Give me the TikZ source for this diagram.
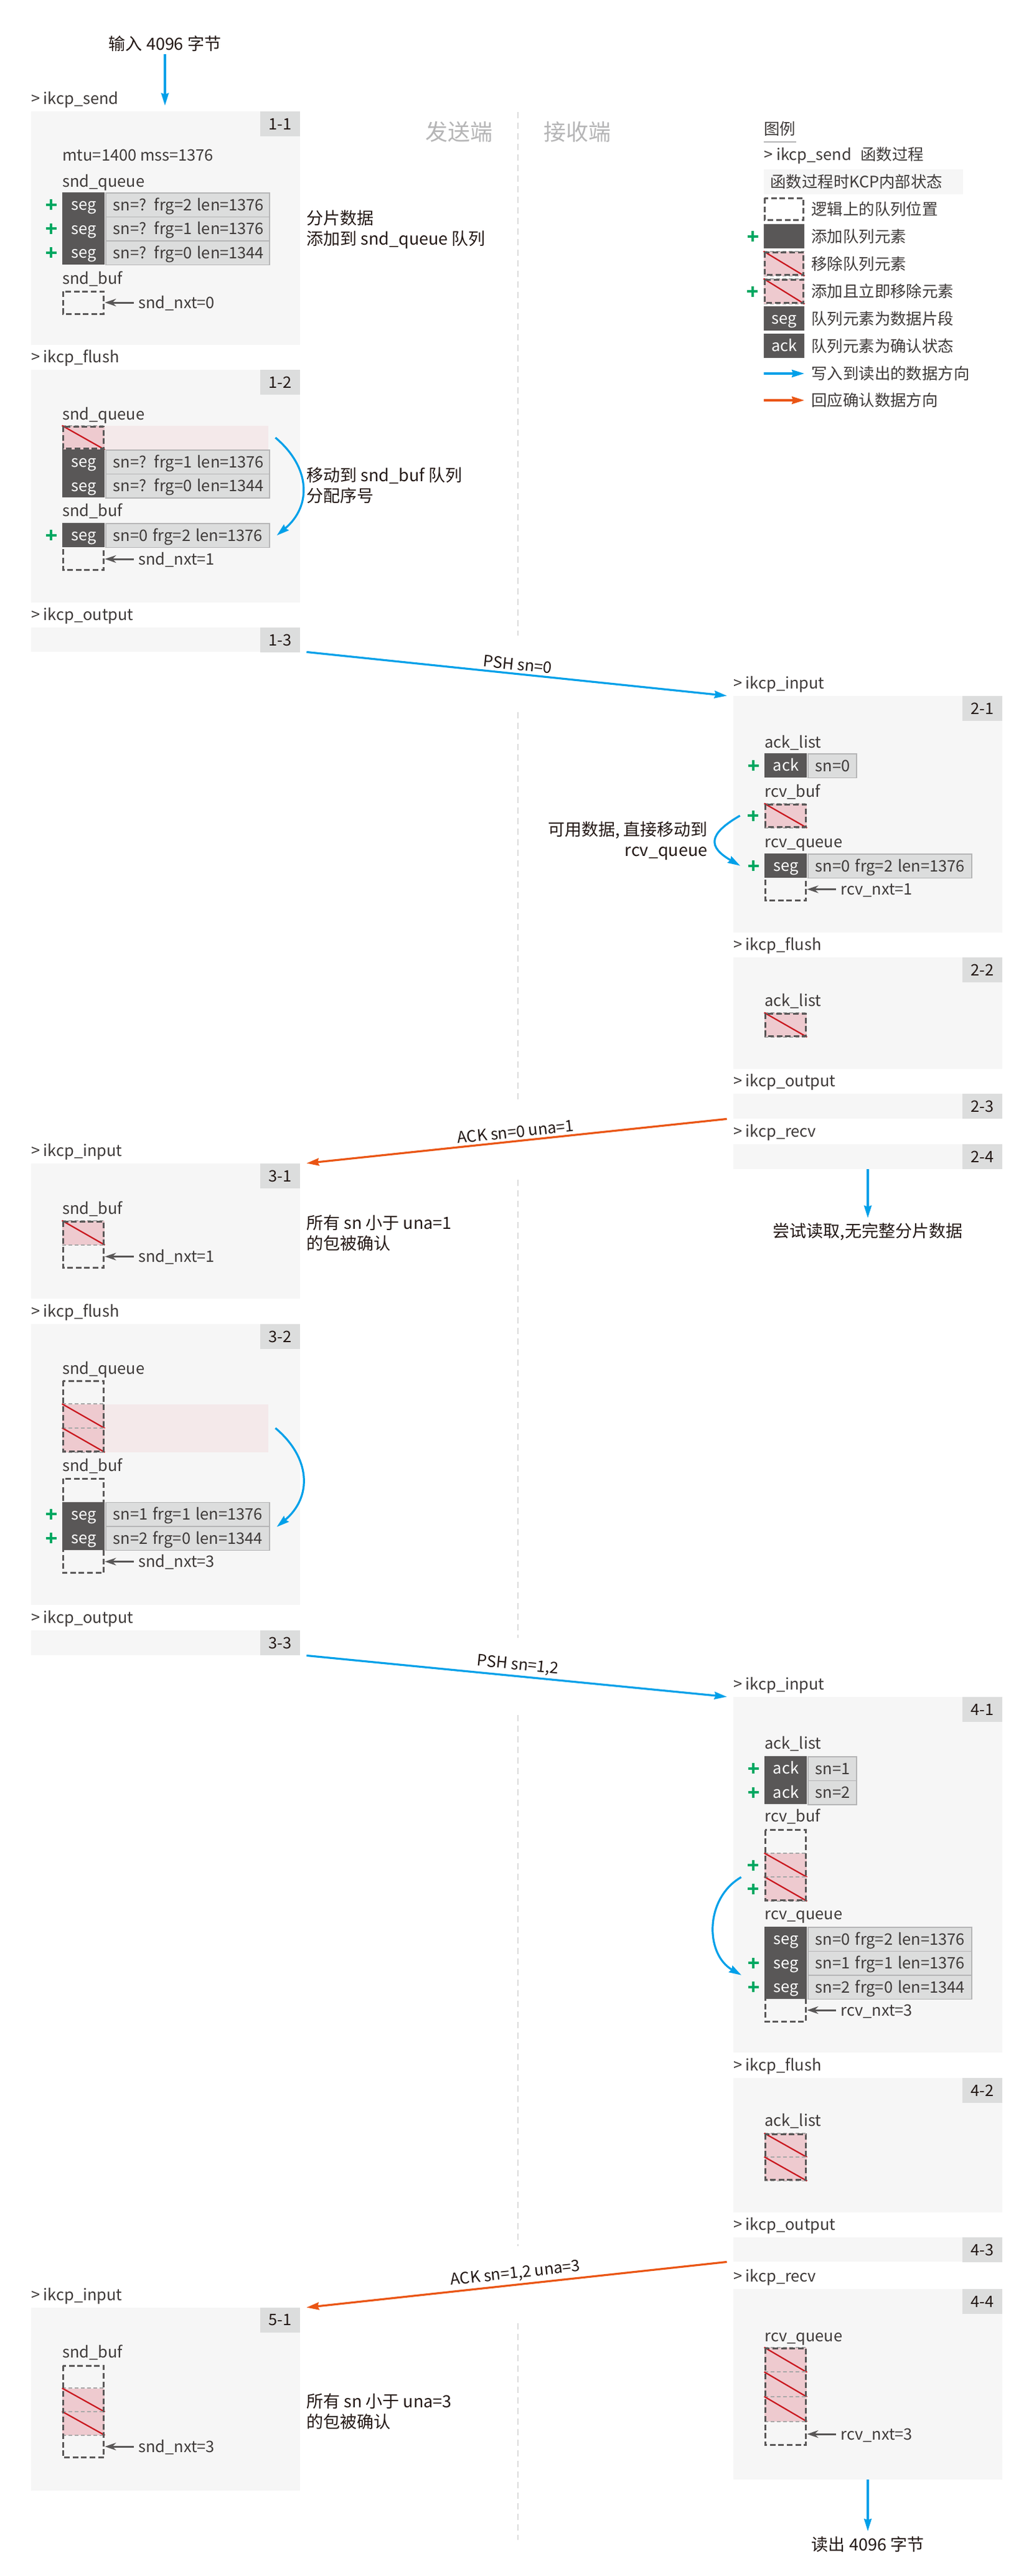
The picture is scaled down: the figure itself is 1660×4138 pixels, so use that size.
\documentclass[tikz,border=0pt]{standalone}
\usepackage{fontspec}
\setmainfont{Noto Sans CJK SC}
\usetikzlibrary{arrows.meta,fit}

\definecolor{boxbg}{HTML}{F6F6F6}
\definecolor{tagbg}{HTML}{DCDDDD}
\definecolor{cellkey}{HTML}{595757}
\definecolor{cellval}{HTML}{DCDDDD}
\definecolor{cellline}{HTML}{B5B5B6}
\definecolor{txt}{HTML}{3E3A39}
\definecolor{note}{HTML}{231815}
\definecolor{side}{HTML}{B5B5B6}
\definecolor{delpink}{HTML}{EECACF}
\definecolor{delband}{HTML}{F4E9EA}
\definecolor{delred}{HTML}{C9171E}
\definecolor{addgreen}{HTML}{00A862}
\definecolor{pshblue}{HTML}{00A0E9}
\definecolor{ackorange}{HTML}{EA5514}
\definecolor{midgray}{HTML}{DCDCDC}
\definecolor{sepgray}{HTML}{A8A8A8}

\newcommand\latinsize{\fontsize{12.7}{16.5}\selectfont}

\tikzset{
  stagebg/.style={fill=boxbg, inner sep=0pt},
  tagbox/.style={fill=tagbg, text=note, font=\latinsize, minimum width=32pt, minimum height=20pt, inner sep=0pt, anchor=north east},
  fname/.style={text=txt, font=\latinsize, anchor=base west, inner sep=0pt},
  qname/.style={text=txt, font=\latinsize, anchor=west, inner sep=0pt, text height=11pt, text depth=2pt},
  notetext/.style={text=note, anchor=west, inner sep=0pt, align=left},
  sidetext/.style={text=side, font=\fontsize{18}{20}\selectfont},
  keycell/.style={fill=cellkey, text=white, font=\latinsize, minimum width=34pt, minimum height=19.25pt, inner sep=0pt, text height=11pt, text depth=2pt, anchor=north west},
  valcell/.style={fill=cellval, draw=cellline, line width=0.9pt, text=txt, font=\latinsize, minimum height=19.25pt, inner xsep=6pt, inner ysep=0pt, text height=11pt, text depth=2pt, text width=#1, align=left, anchor=north west},
  delbox/.style={fill=delpink, inner sep=0pt},
  bandbox/.style={fill=delband, inner sep=0pt},
  slotline/.style={cellkey, line width=1.6pt, dash pattern=on 4.5pt off 2.3pt},
  sepline/.style={sepgray, line width=0.9pt, dash pattern=on 3pt off 2pt},
  delline/.style={delred, line width=1.1pt},
  addmark/.style={addgreen, line width=2pt},
  ulline/.style={side, line width=1pt},
  ptr/.style={cellkey, line width=1.5pt, -{Stealth[length=9pt,width=6pt]}},
  flow/.style={pshblue, line width=1.6pt, -{Stealth[length=10pt,width=6pt,inset=1pt]}},
  ackflow/.style={ackorange, line width=1.6pt, -{Stealth[length=10pt,width=6pt,inset=1pt]}},
  flowlabel/.style={midway, sloped, above, text=note, font=\latinsize, inner sep=2pt},
  midline/.style={midgray, line width=1pt, dash pattern=on 5pt off 3.5pt},
}

% stage box: name, left x, top y, bottom y, tag, function
\newcommand\stage[6]{%
  \node[stagebg, fit={(#2,#3) (#2+432,#4)}] (#1) {};
  \node[tagbox] (#1t) at (#1.north east) {#5};
  \node[fname] (#1f) at ([yshift=5.5pt]#1.north west) {> #6};}
% queue element: [value width] name, x, top y, key, value
\newcommand\segrow[6][119.5pt]{%
  \node[keycell] (k#2) at (#3,#4) {#5};
  \node[valcell=#1] (v#2) at (k#2.north east) {\mbox{#6}};}
% logical queue outline
\newcommand\slotcol[5][68]{%
  \node[fit={(#3,#4) (#3+#1,#5)}, inner sep=0pt] (#2) {};
  \draw[slotline] ([shift={(0.8pt,-0.8pt)}]#2.north west) rectangle ([shift={(-0.8pt,0.8pt)}]#2.south east);}
% removed element
\newcommand\delslot[5][68]{%
  \node[delbox, fit={(#3,#4) (#3+#1,#5)}] (#2) {};
  \draw[sepline] (#2.north west) -- (#2.north east) (#2.south west) -- (#2.south east);
  \draw[delline] (#2.north west) -- (#2.south east);}
% green plus left of an element
\newcommand\addat[1]{%
  \draw[addmark] ([xshift=-13.25pt]#1.west) -- ([xshift=-4.75pt]#1.west)
    ([xshift=-9pt,yshift=-4.25pt]#1.west) -- ([xshift=-9pt,yshift=4.25pt]#1.west);}
% next pointer: name, column, y, text
\newcommand\nxtptr[4]{%
  \node[qname, xshift=26.8pt] (#1) at (#2.east |- 0,#3) {#4};
  \draw[ptr] ([xshift=-3.5pt]#1.west) -- (#1.west -| #2.east);}

\begin{document}
\begin{tikzpicture}[x=0.5pt, y=-0.5pt, font=\fontsize{13.5}{16.5}\selectfont]
  \path[use as bounding box, fill=white] (0,0) rectangle (1660,4138);

  % midtlinje
  \draw[midline] (832,180) -- (832,1021) (832,1144) -- (832,1771) (832,1895) -- (832,2631)
    (832,2755) -- (832,3608) (832,3732) -- (832,4080);
  \node[sidetext] (snd) at (737,212) {发送端};
  \node[sidetext] (rcv) at (927,212) {接收端};

  % legend
  \node[qname] (lg) at (1227,207) {图例};
  \draw[ulline] (lg.west |- 0,228) -- (lg.east |- 0,228);
  \node[qname] (lgf) at (1227,248) {> ikcp\_send};
  \node[qname] (lgf2) at (1382,248) {函数过程};
  \node[stagebg, fit={(1227,272) (1547,312)}] (lgs) {};
  \node[qname] (lgs2) at (1237,292) {函数过程时KCP内部状态};
  \slotcol[65]{lg1}{1227}{317}{355}
  \node[qname] (lt1) at (1303,336) {逻辑上的队列位置};
  \node[keycell, minimum width=32.5pt] (lg2) at (1227,360) {};
  \addat{lg2}
  \node[qname] (lt2) at (1303,380) {添加队列元素};
  \delslot[65]{lg3}{1227}{404}{443}
  \slotcol[65]{lg3b}{1227}{404}{443}
  \node[qname] (lt3) at (1303,424) {移除队列元素};
  \delslot[65]{lg4}{1227}{448}{488}
  \slotcol[65]{lg4b}{1227}{448}{488}
  \addat{lg4}
  \node[qname] (lt4) at (1303,468) {添加且立即移除元素};
  \node[keycell, minimum width=32.5pt] (lg5) at (1227,492) {seg};
  \node[qname] (lt5) at (1303,512) {队列元素为数据片段};
  \node[keycell, minimum width=32.5pt] (lg6) at (1227,536) {ack};
  \node[qname] (lt6) at (1303,556) {队列元素为确认状态};
  \coordinate (lg7) at (1227,600);
  \node[qname] (lt7) at (1303,600) {写入到读出的数据方向};
  \draw[flow] (lg7) -- ([xshift=-5.5pt]lt7.west);
  \coordinate (lg8) at (1227,643);
  \node[qname] (lt8) at (1303,643) {回应确认数据方向};
  \draw[ackflow] (lg8) -- ([xshift=-5.5pt]lt8.west);

  % 1-1
  \stage{s11}{50}{179}{554}{1-1}{ikcp\_send}
  \node[notetext, anchor=center, inner sep=2pt] (inp) at (265,70) {输入 4096 字节};
  \draw[flow, shorten >=4.5pt] (inp.south) -- (inp.south |- s11.north);
  \node[qname] (mtu) at (100,249) {mtu=1400 mss=1376};
  \node[qname] (q11) at (100,291) {snd\_queue};
  \segrow{11a}{100}{309}{seg}{sn=? frg=2 len=1376}
  \segrow{11b}{100}{347.5}{seg}{sn=? frg=1 len=1376}
  \segrow{11c}{100}{386}{seg}{sn=? frg=0 len=1344}
  \addat{k11a} \addat{k11b} \addat{k11c}
  \node[qname] (b11) at (100,447) {snd\_buf};
  \slotcol{c11}{100}{467}{505.5}
  \nxtptr{n11}{c11}{486}{snd\_nxt=0}
  \node[notetext] (m11) at (492,368.5) {分片数据\\添加到 snd\_queue 队列};

  % 1-2
  \stage{s12}{50}{594}{968}{1-2}{ikcp\_flush}
  \node[qname] (q12) at (100,665) {snd\_queue};
  \node[bandbox, fit={(168,684) (431,722)}] (band12) {};
  \delslot{d12}{100}{684}{722}
  \slotcol{c12a}{100}{684}{722}
  \segrow{12a}{100}{722}{seg}{sn=? frg=1 len=1376}
  \segrow{12b}{100}{760.5}{seg}{sn=? frg=0 len=1344}
  \node[qname] (b12) at (100,820) {snd\_buf};
  \slotcol{c12b}{100}{840}{917}
  \segrow{12c}{100}{840}{seg}{sn=0 frg=2 len=1376}
  \addat{k12c}
  \nxtptr{n12}{c12b}{898}{snd\_nxt=1}
  \draw[flow] ([xshift=5.5pt]band12.east) to[out=-40, in=40, looseness=1.2] ([xshift=5.5pt]v12c.east);
  \node[notetext] (m12) at (492,780) {移动到 snd\_buf 队列\\分配序号};

  % 1-3
  \stage{s13}{50}{1008}{1047}{1-3}{ikcp\_output}

  % 2-1
  \stage{s21}{1178}{1118}{1498}{2-1}{ikcp\_input}
  \node[qname] (a21) at (1228,1192) {ack\_list};
  \segrow[27pt]{21a}{1228}{1210}{ack}{sn=0}
  \addat{k21a}
  \node[qname] (b21) at (1228,1271) {rcv\_buf};
  \delslot{d21}{1228}{1291}{1329.5}
  \slotcol{c21a}{1228}{1291}{1329.5}
  \addat{d21}
  \node[qname] (q21) at (1228,1352) {rcv\_queue};
  \slotcol{c21b}{1228}{1371}{1448}
  \segrow{21b}{1228}{1371}{seg}{sn=0 frg=2 len=1376}
  \addat{k21b}
  \nxtptr{n21}{c21b}{1428.5}{rcv\_nxt=1}
  \draw[flow] ([xshift=-19.5pt]d21.west) to[out=-150, in=150, looseness=1.9] ([xshift=-19.5pt]k21b.west);
  \node[notetext, anchor=east, align=right] (m21) at (1137,1350.5) {可用数据, 直接移动到\\rcv\_queue};

  % 2-2
  \stage{s22}{1178}{1538}{1717}{2-2}{ikcp\_flush}
  \node[qname] (a22) at (1228,1607) {ack\_list};
  \delslot{d22}{1228}{1627}{1665.5}
  \slotcol{c22}{1228}{1627}{1665.5}

  % 2-3 og 2-4
  \stage{s23}{1178}{1757}{1797}{2-3}{ikcp\_output}
  \stage{s24}{1178}{1838}{1878}{2-4}{ikcp\_recv}
  \node[notetext, anchor=center, inner sep=4pt] (m24) at (1394,1979) {尝试读取,无完整分片数据};
  \draw[flow] (s24.south) -- (m24.north);

  % 3-1
  \stage{s31}{50}{1869}{2086}{3-1}{ikcp\_input}
  \node[qname] (b31) at (100,1941) {snd\_buf};
  \delslot{d31}{100}{1961}{1999.5}
  \slotcol{c31}{100}{1961}{2038}
  \nxtptr{n31}{c31}{2018.5}{snd\_nxt=1}
  \node[notetext] (m31) at (492,1981) {所有 sn 小于 una=1\\的包被确认};

  % 3-2
  \stage{s32}{50}{2127}{2578}{3-2}{ikcp\_flush}
  \node[qname] (q32) at (100,2198) {snd\_queue};
  \node[bandbox, fit={(168,2255.5) (431,2332.5)}] (band32) {};
  \delslot{d32a}{100}{2255.5}{2294}
  \delslot{d32b}{100}{2294}{2332.5}
  \slotcol{c32a}{100}{2217}{2332.5}
  \node[qname] (b32) at (100,2354) {snd\_buf};
  \slotcol{c32b}{100}{2374}{2528}
  \segrow{32a}{100}{2412.5}{seg}{sn=1 frg=1 len=1376}
  \segrow{32b}{100}{2451}{seg}{sn=2 frg=0 len=1344}
  \addat{k32a} \addat{k32b}
  \nxtptr{n32}{c32b}{2508.5}{snd\_nxt=3}
  \draw[flow] ([xshift=5.5pt]band32.east) to[out=-40, in=40, looseness=1.2] ([xshift=5.5pt]v32a.south east);

  % 3-3
  \stage{s33}{50}{2619}{2659}{3-3}{ikcp\_output}

  % 4-1
  \stage{s41}{1178}{2726}{3297}{4-1}{ikcp\_input}
  \node[qname] (a41) at (1228,2800) {ack\_list};
  \segrow[27pt]{41a}{1228}{2821}{ack}{sn=1}
  \segrow[27pt]{41b}{1228}{2859.5}{ack}{sn=2}
  \addat{k41a} \addat{k41b}
  \node[qname] (b41) at (1228,2917) {rcv\_buf};
  \delslot{d41a}{1228}{2977}{3015}
  \delslot{d41b}{1228}{3015}{3053.5}
  \slotcol{c41a}{1228}{2938.5}{3053.5}
  \addat{d41a} \addat{d41b}
  \node[qname] (q41) at (1228,3074) {rcv\_queue};
  \slotcol{c41b}{1228}{3095}{3248.5}
  \segrow{41c}{1228}{3095}{seg}{sn=0 frg=2 len=1376}
  \segrow{41d}{1228}{3133.5}{seg}{sn=1 frg=1 len=1376}
  \segrow{41e}{1228}{3172}{seg}{sn=2 frg=0 len=1344}
  \addat{k41d} \addat{k41e}
  \nxtptr{n41}{c41b}{3229}{rcv\_nxt=3}
  \draw[flow] ([xshift=-18.5pt]d41a.south west) to[out=-150, in=150, looseness=1.1] ([xshift=-18.5pt]k41d.south west);

  % 4-2
  \stage{s42}{1178}{3338}{3554}{4-2}{ikcp\_flush}
  \node[qname] (a42) at (1228,3406) {ack\_list};
  \delslot{d42a}{1228}{3427}{3465}
  \delslot{d42b}{1228}{3465}{3503}
  \slotcol{c42}{1228}{3427}{3503}

  % 4-3 og 4-4
  \stage{s43}{1178}{3594}{3633}{4-3}{ikcp\_output}
  \stage{s44}{1178}{3677}{3983}{4-4}{ikcp\_recv}
  \node[qname] (q44) at (1228,3752) {rcv\_queue};
  \delslot{d44a}{1228}{3771}{3810.5}
  \delslot{d44b}{1228}{3810.5}{3850}
  \delslot{d44c}{1228}{3850}{3889.5}
  \slotcol{c44}{1228}{3771}{3929}
  \nxtptr{n44}{c44}{3910}{rcv\_nxt=3}
  \node[notetext, anchor=center, inner sep=4pt] (m44) at (1394,4087) {读出 4096 字节};
  \draw[flow] (s44.south) -- (m44.north);

  % 5-1
  \stage{s51}{50}{3707}{4001}{5-1}{ikcp\_input}
  \node[qname] (b51) at (100,3778) {snd\_buf};
  \delslot{d51a}{100}{3836.5}{3874}
  \delslot{d51b}{100}{3874}{3911.5}
  \slotcol{c51}{100}{3799}{3949}
  \nxtptr{n51}{c51}{3930}{snd\_nxt=3}
  \node[notetext] (m51) at (492,3873.5) {所有 sn 小于 una=3\\的包被确认};

  % pakker mellom sidene
  \draw[flow] ([xshift=5pt]s13.south east) -- node[flowlabel] (p1) {PSH sn=0} ([xshift=-5pt]s21.north west);
  \draw[ackflow] ([xshift=-5pt]s23.south west) -- node[flowlabel] (p2) {ACK sn=0 una=1} ([xshift=5pt]s31.north east);
  \draw[flow] ([xshift=5pt]s33.south east) -- node[flowlabel] (p3) {PSH sn=1,2} ([xshift=-5pt]s41.north west);
  \draw[ackflow] ([xshift=-5pt]s43.south west) -- node[flowlabel] (p4) {ACK sn=1,2 una=3} ([xshift=5pt]s51.north east);
\end{tikzpicture}
\end{document}
